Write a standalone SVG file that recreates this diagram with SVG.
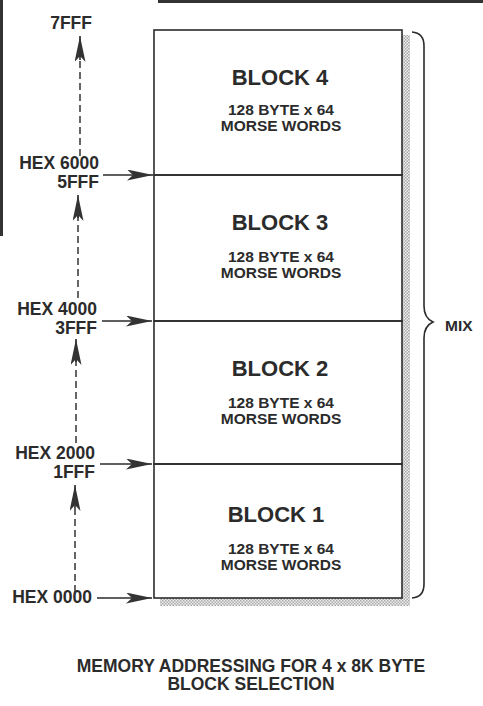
<svg xmlns="http://www.w3.org/2000/svg" width="483" height="706" viewBox="0 0 483 706">
<style>
text{font-family:"Liberation Sans",Arial,sans-serif;font-weight:bold;fill:#2b2b2b}
.lbl{font-size:17.5px;text-anchor:end}
.ttl{font-size:22px;text-anchor:middle}
.sub{font-size:15.5px;text-anchor:middle}
.cap{font-size:17.5px;text-anchor:middle}
.ln{stroke:#2b2b2b;stroke-width:1.6;fill:none}
.dash{stroke:#333;stroke-width:1.5;stroke-dasharray:7,4;fill:none}
</style>
<defs>
<pattern id="dots" width="3" height="3" patternUnits="userSpaceOnUse">
<rect width="3" height="3" fill="#eeeeee"/>
<rect width="1.5" height="1.5" fill="#aaaaaa"/>
<rect x="1.5" y="1.5" width="1.5" height="1.5" fill="#aaaaaa"/>
</pattern>
<marker id="ah" viewBox="0 0 26 11" refX="26" refY="5.5" markerWidth="26" markerHeight="11" markerUnits="userSpaceOnUse" orient="auto">
<path d="M0,0 L26,5.5 L0,11 L6,5.5 Z" fill="#333"/>
</marker>
</defs>
<line x1="158" y1="1.5" x2="483" y2="1.5" stroke="#333" stroke-width="3"/>
<line x1="1.5" y1="0" x2="1.5" y2="236" stroke="#333" stroke-width="3"/>
<g id="shadow">
<rect x="402" y="35" width="8" height="571" fill="url(#dots)"/>
<rect x="160" y="598" width="242" height="8" fill="url(#dots)"/>
</g>
<g id="block4">
<rect x="154" y="30" width="248" height="145" class="ln"/>
<text class="ttl" x="280" y="85">BLOCK 4</text>
<text class="sub" x="281" y="115">128 BYTE x 64</text>
<text class="sub" x="281" y="131">MORSE WORDS</text>
</g>
<g id="block3">
<rect x="154" y="175" width="248" height="146" class="ln"/>
<text class="ttl" x="280" y="230">BLOCK 3</text>
<text class="sub" x="281" y="262">128 BYTE x 64</text>
<text class="sub" x="281" y="278">MORSE WORDS</text>
</g>
<g id="block2">
<rect x="154" y="321" width="248" height="143" class="ln"/>
<text class="ttl" x="280" y="376">BLOCK 2</text>
<text class="sub" x="281" y="408">128 BYTE x 64</text>
<text class="sub" x="281" y="424">MORSE WORDS</text>
</g>
<g id="block1">
<rect x="154" y="464" width="248" height="134" class="ln"/>
<text class="ttl" x="276" y="522">BLOCK 1</text>
<text class="sub" x="281" y="554">128 BYTE x 64</text>
<text class="sub" x="281" y="570">MORSE WORDS</text>
</g>
<g id="labels">
<text class="lbl" x="92" y="29">7FFF</text>
<text class="lbl" x="99" y="169">HEX 6000</text>
<text class="lbl" x="99" y="188">5FFF</text>
<text class="lbl" x="97" y="315">HEX 4000</text>
<text class="lbl" x="97" y="334">3FFF</text>
<text class="lbl" x="95" y="459">HEX 2000</text>
<text class="lbl" x="95" y="478">1FFF</text>
<text class="lbl" x="92" y="603">HEX 0000</text>
</g>
<g id="mix">
<path class="ln" d="M412,32 Q424,33 424,46 L424,306 Q424,318 433,322 Q424,326 424,338 L424,584 Q424,597 412,598"/>
<text x="445" y="331" style="font-size:15.5px">MIX</text>
</g>
<g id="connectors">
<line class="dash" x1="80" y1="156" x2="80" y2="50"/>
<line class="ln" x1="80" y1="60" x2="80" y2="36" marker-end="url(#ah)"/>
<line class="dash" x1="78" y1="298" x2="78" y2="210"/>
<line class="ln" x1="78" y1="218" x2="78" y2="195" marker-end="url(#ah)"/>
<line class="dash" x1="76" y1="443" x2="76" y2="352"/>
<line class="ln" x1="76" y1="362" x2="76" y2="339" marker-end="url(#ah)"/>
<line class="dash" x1="75" y1="592" x2="75" y2="500"/>
<line class="ln" x1="75" y1="508" x2="75" y2="485" marker-end="url(#ah)"/>
<line class="ln" x1="103" y1="175" x2="153" y2="175" marker-end="url(#ah)"/>
<line class="ln" x1="102" y1="321" x2="152" y2="321" marker-end="url(#ah)"/>
<line class="ln" x1="100" y1="464" x2="152" y2="464" marker-end="url(#ah)"/>
<line class="ln" x1="97" y1="598" x2="152" y2="598" marker-end="url(#ah)"/>
</g>
<g id="caption">
<text class="cap" x="251" y="672">MEMORY ADDRESSING FOR 4 x 8K BYTE</text>
<text class="cap" x="251" y="690">BLOCK SELECTION</text>
</g>
</svg>
